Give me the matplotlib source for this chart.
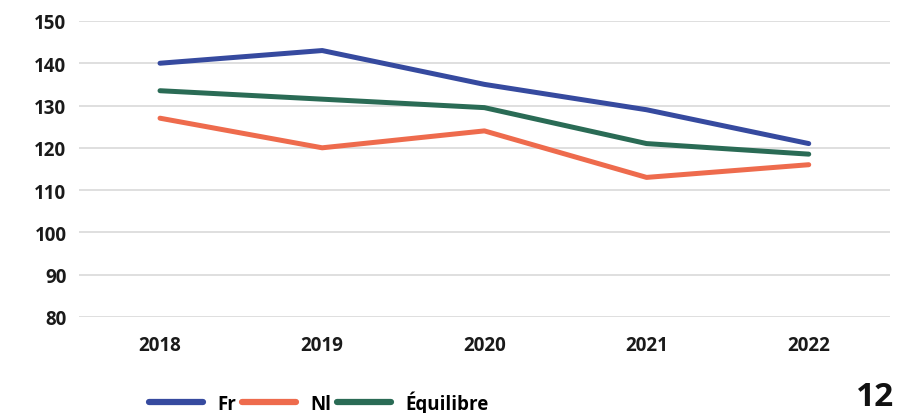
import numpy as np
import matplotlib.pyplot as plt

years = ["2018", "2019", "2020", "2021", "2022"]
fr = [140, 143, 135, 129, 121]
nl = [127, 120, 124, 113, 116]
equilibre = [133.5, 131.5, 129.5, 121, 118.5]
yticks = [80, 90, 100, 110, 120, 130, 140, 150]

plt.rcParams['font.family'] = ['Open Sans', 'DejaVu Sans']

fig = plt.figure(figsize=(8.97, 4.14), dpi=100)
ax = fig.add_axes([0.088, 0.232, 0.904, 0.715])

x = np.arange(len(years))
ax.plot(x, fr, color="#364a9f", lw=3.6, solid_capstyle="round", label="Fr", zorder=3)
ax.plot(x, nl, color="#ee6b4d", lw=3.6, solid_capstyle="round", label="Nl", zorder=3)
ax.plot(x, equilibre, color="#2a6b55", lw=3.6, solid_capstyle="round", label="Équilibre", zorder=3)

ax.set_xlim(-0.5, len(years) - 0.5)
ax.set_ylim(80, 150)
ax.set_yticks(yticks)
ax.set_xticks(x)
ax.set_xticklabels(years)
ax.grid(axis="y", color="#d9d9d9", lw=1.2)
ax.set_axisbelow(True)
for s in ax.spines.values():
    s.set_visible(False)
ax.tick_params(length=0, labelsize=13.5, colors="#1a1a1a", pad=9)
ax.tick_params(axis="x", pad=13)
for lab in ax.get_xticklabels() + ax.get_yticklabels():
    lab.set_fontweight("bold")

leg = fig.legend(loc="center", bbox_to_anchor=(0.355, 0.027), ncol=3, frameon=False,
                 handlelength=2.9, handletextpad=0.75, columnspacing=0.3,
                 prop={"size": 13.5, "weight": "bold"})
for h in leg.get_lines():
    h.set_linewidth(4.5)
    h.set_solid_capstyle("round")

fig.text(0.997, 0.0, "12", ha="right", va="bottom", fontsize=24, fontweight="bold", color="#111111")

plt.savefig("out.png", dpi=100)
